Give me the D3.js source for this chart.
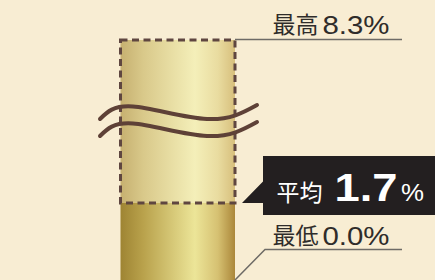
<!DOCTYPE html>
<html>
<head>
<meta charset="utf-8">
<script src="https://cdn.jsdelivr.net/npm/d3@7"></script>
<style>
  html, body { margin: 0; padding: 0; background: #f8edd3; }
  svg { display: block; }
</style>
</head>
<body>
<svg id="chart" width="435" height="280"></svg>
<script>
// ---- data ----
const categories = ["最高", "平均", "最低"];
const values = [8.3, 1.7, 0.0];
const unit = "%";

// ---- setup ----
const W = 435, H = 280;
const svg = d3.select("#chart");
const fmt = d3.format(".1f");

// broken (piecewise) value scale: min -> avg -> max
const y = d3.scaleLinear()
  .domain([values[2], values[1], values[0]])
  .range([280, 203, 40]);

const x = d3.scaleBand().domain(["bar"]).range([120.5, 235]).padding(0);
const bx0 = x("bar"), bx1 = x("bar") + x.bandwidth();

const defs = svg.append("defs");
function grad(id, stops) {
  const g = defs.append("linearGradient").attr("id", id)
    .attr("x1", "0%").attr("x2", "100%").attr("y1", "0%").attr("y2", "0%");
  stops.forEach(([o, c]) => g.append("stop").attr("offset", o).attr("stop-color", c));
}
grad("solidG", [["0%", "#9e8433"], ["20%", "#b9a24c"], ["65%", "#ece598"], ["85%", "#d6c172"], ["100%", "#ab873a"]]);
grad("lightG", [["0%", "#c6b070"], ["20%", "#d9c98a"], ["65%", "#f4efb9"], ["85%", "#e9dca0"], ["100%", "#d7bf7c"]]);

svg.append("rect").attr("width", W).attr("height", H).attr("fill", "#f8edd3");

// max region (dashed, light)
svg.append("rect")
  .attr("x", bx0).attr("y", y(values[0]))
  .attr("width", bx1 - bx0).attr("height", y(values[1]) - y(values[0]))
  .attr("fill", "url(#lightG)");

// average bar (solid)
svg.append("rect")
  .attr("x", bx0).attr("y", y(values[1]))
  .attr("width", bx1 - bx0).attr("height", y(values[2]) - y(values[1]))
  .attr("fill", "url(#solidG)");

// dashed outline
svg.append("rect")
  .attr("x", bx0).attr("y", y(values[0]))
  .attr("width", bx1 - bx0).attr("height", y(values[1]) - y(values[0]))
  .attr("fill", "none").attr("stroke", "#5f4640").attr("stroke-width", 3)
  .attr("stroke-dasharray", "7,4.5");

// break waves (decoration)
const waveShape = [[100, 119], [133, 106.5], [207, 119], [257, 105]];
const waveLine = d3.line().curve(d3.curveNatural);
[0, 17].forEach(dy => {
  svg.append("path")
    .attr("d", waveLine(waveShape.map(([px, py]) => [px, py + dy])))
    .attr("fill", "none").attr("stroke", "#5e4137")
    .attr("stroke-width", 4).attr("stroke-linecap", "round");
});

const cjk = "'Noto Sans CJK JP', 'Noto Sans CJK SC', sans-serif";
const lat = "'Liberation Sans', Arial, Helvetica, sans-serif";
const lineColor = "#6e6b66";
const textColor = "#2f2c2a";

// ---- max label ----
svg.append("line")
  .attr("x1", bx1).attr("x2", 402)
  .attr("y1", y(values[0]) - 0.5).attr("y2", y(values[0]) - 0.5)
  .attr("stroke", lineColor).attr("stroke-width", 1.5);
svg.append("text").attr("x", 272.5).attr("y", 33.3)
  .attr("font-family", cjk).attr("font-size", 23).attr("fill", textColor)
  .text(categories[0]);
svg.append("text").attr("x", 322.5).attr("y", 34.3)
  .attr("font-family", lat).attr("font-size", 26).attr("fill", textColor)
  .attr("textLength", 67).attr("lengthAdjust", "spacingAndGlyphs")
  .text(fmt(values[0]) + unit);

// ---- average callout ----
const ay = y(values[1]);
svg.append("path")
  .attr("d", `M${bx1 + 7},${ay} L263,${ay - 21.5} L263,156 L${W},156 L${W},215 L263,215 L263,${ay} Z`)
  .attr("fill", "#231f20");
svg.append("text").attr("x", 276.5).attr("y", 200.8)
  .attr("font-family", cjk).attr("font-size", 23).attr("fill", "#ffffff")
  .text(categories[1]);
svg.append("text").attr("x", 334.5).attr("y", 200.8)
  .attr("font-family", lat).attr("font-weight", "bold").attr("font-size", 38).attr("fill", "#ffffff")
  .attr("textLength", 63).attr("lengthAdjust", "spacingAndGlyphs")
  .text(fmt(values[1]));
svg.append("text").attr("x", 401).attr("y", 200.8)
  .attr("font-family", lat).attr("font-size", 24).attr("fill", "#ffffff")
  .attr("textLength", 23).attr("lengthAdjust", "spacingAndGlyphs")
  .text(unit);

// ---- min label ----
svg.append("path")
  .attr("d", `M${bx1},${y(values[2])} L265,249.5 L402,249.5`)
  .attr("fill", "none").attr("stroke", lineColor).attr("stroke-width", 1.5);
svg.append("text").attr("x", 272.5).attr("y", 243.6)
  .attr("font-family", cjk).attr("font-size", 23).attr("fill", textColor)
  .text(categories[2]);
svg.append("text").attr("x", 322.5).attr("y", 245.3)
  .attr("font-family", lat).attr("font-size", 26).attr("fill", textColor)
  .attr("textLength", 67).attr("lengthAdjust", "spacingAndGlyphs")
  .text(fmt(values[2]) + unit);
</script>
</body>
</html>
